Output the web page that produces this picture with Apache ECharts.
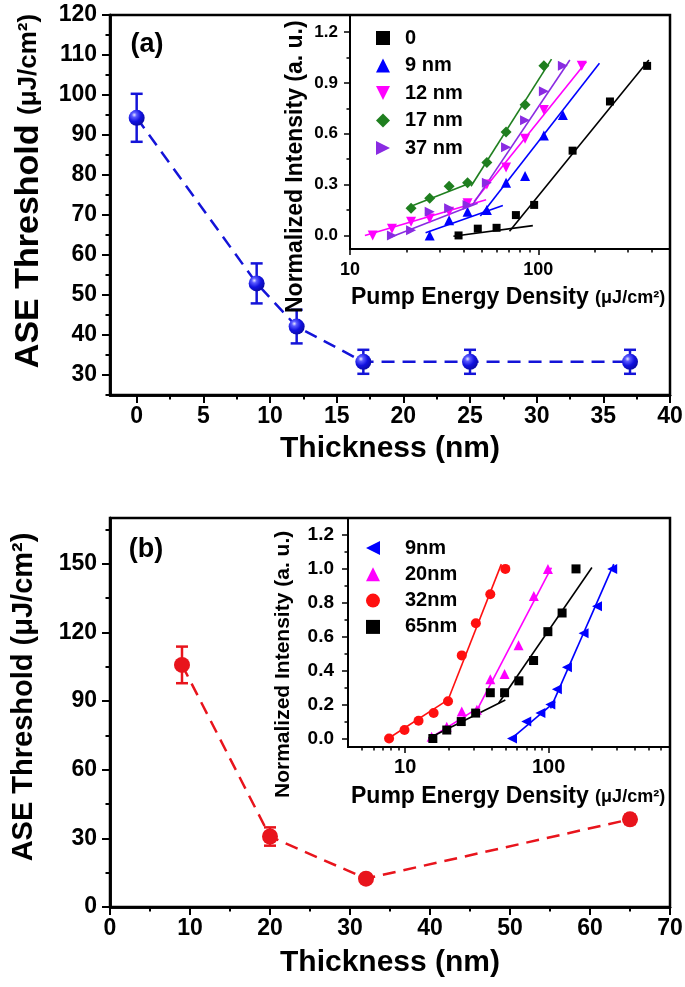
<!DOCTYPE html>
<html><head><meta charset="utf-8">
<script src="https://cdn.jsdelivr.net/npm/echarts@6/dist/echarts.min.js"></script>
<style>html,body{margin:0;padding:0;background:#fff}#c{width:685px;height:987px}</style>
</head><body><div id="c"></div>
<script>
// ---------- Panel (a) main data ----------
const thickA = [0, 9, 12, 17, 25, 37];
const thrA = [94.3, 52.9, 42.1, 33.3, 33.3, 33.3];
const errA = [6.0, 5.0, 4.2, 3.0, 3.0, 3.0];
// ---------- Panel (b) main data ----------
const thickB = [9, 20, 32, 65];
const thrB = [105.8, 30.8, 12.4, 38.3];
const errB = [8.0, 4.0, 1.0, 2.0];

// ---------- Inset (a) ----------
const insA_names = ['0', '9 nm', '12 nm', '17 nm', '37 nm'];
const a0x = [37.7, 47.7, 60, 76, 95, 152, 240, 378];
const a0y = [0, 0.04, 0.045, 0.12, 0.18, 0.5, 0.79, 1.0];
const a9x = [26.5, 33.6, 42.1, 53.3, 67.4, 85, 107, 135];
const a9y = [0.0, 0.09, 0.14, 0.15, 0.31, 0.35, 0.59, 0.71];
const a12x = [13.2, 16.7, 21.1, 26.5, 33.6, 42.1, 53.3, 67.4, 85, 107, 170];
const a12y = [0, 0.04, 0.08, 0.1, 0.14, 0.19, 0.3, 0.4, 0.57, 0.74, 1.0];
const a17x = [21.1, 26.5, 33.6, 42.1, 53.3, 67.4, 85, 107];
const a17y = [0.16, 0.22, 0.29, 0.31, 0.43, 0.61, 0.77, 1.0];
const a37x = [16.7, 21.1, 26.5, 33.6, 42.1, 53.3, 67.4, 85, 107, 135];
const a37y = [0, 0.03, 0.14, 0.16, 0.18, 0.31, 0.52, 0.68, 0.85, 1.0];
// fit line end points [x, y]
const fitA0lo = [[35.4, -0.005], [93.5, 0.058]];
const fitA0hi = [[70.3, 0.025], [386, 1.035]];
const fitA9lo = [[25.2, 0.016], [64.8, 0.176]];
const fitA9hi = [[49.2, 0.114], [211, 1.016]];
const fitA12lo = [[12.0, 0.0], [52.8, 0.21]];
const fitA12hi = [[45.6, 0.2], [180, 1.025]];
const fitA17lo = [[20.1, 0.163], [43.9, 0.31]];
const fitA17hi = [[43.9, 0.29], [117.5, 1.04]];
const fitA37lo = [[16.4, -0.01], [47.6, 0.19]];
const fitA37hi = [[44.7, 0.18], [147, 1.035]];

// ---------- Inset (b) ----------
const insB_names = ['9nm', '20nm', '32nm', '65nm'];
const b9x = [55.5, 69.8, 87.5, 102.7, 114, 134, 175, 217, 277];
const b9y = [0, 0.1, 0.15, 0.2, 0.29, 0.42, 0.62, 0.78, 1.0];
const b20x = [15.3, 19.5, 24.8, 31.6, 39.2, 49.3, 61.7, 78.8, 98.8];
const b20y = [0.01, 0.07, 0.16, 0.17, 0.35, 0.38, 0.55, 0.84, 1.0];
const b32x = [7.73, 9.9, 12.4, 15.8, 19.9, 24.8, 31.1, 39.2, 49.9];
const b32y = [0, 0.05, 0.105, 0.15, 0.22, 0.49, 0.68, 0.85, 1.0];
const b65x = [15.6, 19.5, 24.6, 31, 39.2, 49.3, 62, 78.5, 98.7, 124, 155];
const b65y = [0, 0.05, 0.1, 0.15, 0.27, 0.27, 0.34, 0.46, 0.63, 0.74, 1.0];
const fitB9lo = [[54, -0.006], [111, 0.217]];
const fitB9hi = [[103, 0.178], [284, 1.028]];
const fitB20lo = [[15.2, 0.006], [33.3, 0.188]];
const fitB20hi = [[30.8, 0.148], [104.5, 1.008]];
const fitB32lo = [[7.45, -0.006], [20.6, 0.237]];
const fitB32hi = [[19.5, 0.208], [46.8, 1.028]];
const fitB65lo = [[14.5, 0.0], [49.9, 0.227]];
const fitB65hi = [[44.8, 0.208], [200, 1.008]];

// ---------- tick labels ----------
const ticksAx = [0, 5, 10, 15, 20, 25, 30, 35, 40];
const minorAx = [2.5, 7.5, 12.5, 17.5, 22.5, 27.5, 32.5, 37.5];
const ticksAy = [30, 40, 50, 60, 70, 80, 90, 100, 110, 120];
const minorAy = [25, 35, 45, 55, 65, 75, 85, 95, 105, 115];
const ticksBx = [0, 10, 20, 30, 40, 50, 60, 70];
const minorBx = [5, 15, 25, 35, 45, 55, 65];
const ticksBy = [0, 30, 60, 90, 120, 150];
const minorBy = [15, 45, 75, 105, 135, 165];
const ticksIAy = [0, 0.3, 0.6, 0.9, 1.2];
const minorIAy = [0.15, 0.45, 0.75, 1.05];
const ticksIBy = [0, 0.2, 0.4, 0.6, 0.8, 1.0, 1.2];
const minorIBy = [0.1, 0.3, 0.5, 0.7, 0.9, 1.1];

const FF = "'Liberation Sans', Arial, Helvetica, sans-serif";
const BLACK = '#000';
const blueA = '#1414d8';
const redB = '#e8141c';
const cBlue = '#0000ff', cMag = '#ff00ff', cGreen = '#1f7f1f', cPurple = '#8a2be2', cRed = '#ff1010';
const TRI_UP = 'path://M5,0L10,10L0,10Z';
const TRI_DOWN = 'path://M0,0L10,0L5,10Z';
const TRI_RIGHT = 'path://M0,0L10,5L0,10Z';
const TRI_LEFT = 'path://M10,0L0,5L10,10Z';

function pairs(xs, ys) { return xs.map((x, i) => [x, ys[i]]); }
function logMinor(min, max) {
  const r = [];
  for (let d = 1; d <= 1000; d *= 10) for (let k = 2; k <= 9; k++) { const v = k * d; if (v > min && v < max) r.push(Math.log10(v)); }
  return r;
}

function majorAxis(gridIndex, position, min, max, ticks, o) {
  const ax = {
    type: o.type || 'value', gridIndex, position, min, max,
    axisLine: { show: true, onZero: false, lineStyle: { color: BLACK, width: o.lw } },
    axisTick: { show: true, inside: false, length: o.tl, lineStyle: { color: BLACK, width: o.tw } },
    axisLabel: { show: true, margin: o.margin, color: BLACK, fontFamily: FF, fontWeight: 'bold', fontSize: o.fs },
    splitLine: { show: false }, minorTick: { show: false }, minorSplitLine: { show: false }
  };
  if (o.type === 'log') ax.logBase = 10;
  if (ticks) { ax.axisTick.customValues = ticks; ax.axisLabel.customValues = ticks; }
  if (o.fmt) ax.axisLabel.formatter = o.fmt;
  if (o.labelExtra) Object.assign(ax.axisLabel, o.labelExtra);
  return ax;
}
function minorAxis(gridIndex, position, min, max, ticks, len, tw, lw) {
  return {
    type: 'value', gridIndex, position, min, max,
    axisLine: { show: true, onZero: false, lineStyle: { color: BLACK, width: lw } },
    axisLabel: { show: false }, splitLine: { show: false },
    axisTick: { show: true, inside: false, length: len, customValues: ticks, lineStyle: { color: BLACK, width: tw } }
  };
}
const fmt1 = v => v.toFixed(1);

const xAxis = [
  majorAxis(0, 'bottom', -2, 40, ticksAx, { lw: 2.5, tl: 8, tw: 2, fs: 23, margin: 10 }),
  minorAxis(0, 'bottom', -2, 40, minorAx, 4.5, 2, 2.5),
  majorAxis(1, 'bottom', 10, 500, null, { type: 'log', lw: 2, tl: 6, tw: 1.5, fs: 18, margin: 12, labelExtra: { showMaxLabel: false } }),
  minorAxis(1, 'bottom', 1, Math.log10(500), logMinor(10, 500), 3.5, 1.5, 2),
  majorAxis(2, 'bottom', 0, 70, ticksBx, { lw: 2.5, tl: 8, tw: 2, fs: 23, margin: 10 }),
  minorAxis(2, 'bottom', 0, 70, minorBx, 4.5, 2, 2.5),
  majorAxis(3, 'bottom', 4, 700, null, { type: 'log', lw: 2, tl: 6, tw: 1.5, fs: 20, margin: 10, labelExtra: { showMinLabel: false, showMaxLabel: false } }),
  minorAxis(3, 'bottom', Math.log10(4), Math.log10(700), logMinor(4, 700), 3.5, 1.5, 2)
];
const yAxis = [
  majorAxis(0, 'left', 25, 120, ticksAy, { lw: 2.5, tl: 8, tw: 2, fs: 23, margin: 13 }),
  minorAxis(0, 'left', 25, 120, minorAy, 4.5, 2, 2.5),
  majorAxis(1, 'left', -0.08, 1.3, ticksIAy, { lw: 2, tl: 6, tw: 1.5, fs: 17, margin: 12, fmt: fmt1 }),
  minorAxis(1, 'left', -0.08, 1.3, minorIAy, 3.5, 1.5, 2),
  majorAxis(2, 'left', 0, 170, ticksBy, { lw: 2.5, tl: 8, tw: 2, fs: 23, margin: 13 }),
  minorAxis(2, 'left', 0, 170, minorBy, 4.5, 2, 2.5),
  majorAxis(3, 'left', -0.05, 1.3, ticksIBy, { lw: 2, tl: 6, tw: 1.5, fs: 19, margin: 14, fmt: fmt1 }),
  minorAxis(3, 'left', -0.05, 1.3, minorIBy, 3.5, 1.5, 2)
];

function errRender(params, api) {
  const x = api.value(0), lo = api.value(1), hi = api.value(2);
  const pLo = api.coord([x, lo]), pHi = api.coord([x, hi]);
  const cw = 6;
  const style = { stroke: api.visual('color'), lineWidth: 2.5 };
  return { type: 'group', children: [
    { type: 'line', shape: { x1: pLo[0], y1: pLo[1], x2: pHi[0], y2: pHi[1] }, style },
    { type: 'line', shape: { x1: pLo[0] - cw, y1: pLo[1], x2: pLo[0] + cw, y2: pLo[1] }, style },
    { type: 'line', shape: { x1: pHi[0] - cw, y1: pHi[1], x2: pHi[0] + cw, y2: pHi[1] }, style }
  ] };
}

const sphereBlue = new echarts.graphic.RadialGradient(0.35, 0.32, 0.7, [
  { offset: 0, color: '#e8e8ff' }, { offset: 0.22, color: '#5a5aff' }, { offset: 0.6, color: '#1212e0' }, { offset: 1, color: '#0a0aa8' }
]);

function mainSeries(xi, yi, xs, ys, es, color, markerColor) {
  return [
    { type: 'line', xAxisIndex: xi, yAxisIndex: yi, data: pairs(xs, ys), symbol: 'none', silent: true,
      lineStyle: { color, width: 2.5, type: [13, 8] }, z: 2 },
    { type: 'custom', xAxisIndex: xi, yAxisIndex: yi, renderItem: errRender, itemStyle: { color },
      encode: { x: 0, y: [1, 2] }, data: xs.map((x, i) => [x, ys[i] - es[i], ys[i] + es[i]]), z: 3 },
    { type: 'scatter', xAxisIndex: xi, yAxisIndex: yi, data: pairs(xs, ys), symbol: 'circle', symbolSize: 16,
      itemStyle: { color: markerColor, opacity: 1 }, z: 4 }
  ];
}
function insetScatter(name, xi, yi, xs, ys, color, symbol, size) {
  return { type: 'scatter', name, xAxisIndex: xi, yAxisIndex: yi, data: pairs(xs, ys), symbol, symbolSize: size,
    itemStyle: { color, opacity: 1 }, z: 6 };
}
function fitLine(name, xi, yi, pts, color) {
  return { type: 'line', name, xAxisIndex: xi, yAxisIndex: yi, data: pts, symbol: 'none', silent: true,
    lineStyle: { color, width: 1.6 }, z: 5 };
}

const series = [].concat(
  mainSeries(0, 0, thickA, thrA, errA, blueA, sphereBlue),
  mainSeries(4, 4, thickB, thrB, errB, redB, redB),
  [
    fitLine('fa0l', 2, 2, fitA0lo, BLACK), fitLine('fa0h', 2, 2, fitA0hi, BLACK),
    fitLine('fa9l', 2, 2, fitA9lo, cBlue), fitLine('fa9h', 2, 2, fitA9hi, cBlue),
    fitLine('fa12l', 2, 2, fitA12lo, cMag), fitLine('fa12h', 2, 2, fitA12hi, cMag),
    fitLine('fa17l', 2, 2, fitA17lo, cGreen), fitLine('fa17h', 2, 2, fitA17hi, cGreen),
    fitLine('fa37l', 2, 2, fitA37lo, cPurple), fitLine('fa37h', 2, 2, fitA37hi, cPurple),
    insetScatter(insA_names[0], 2, 2, a0x, a0y, BLACK, 'rect', 8),
    insetScatter(insA_names[1], 2, 2, a9x, a9y, cBlue, TRI_UP, 10),
    insetScatter(insA_names[2], 2, 2, a12x, a12y, cMag, TRI_DOWN, 10),
    insetScatter(insA_names[3], 2, 2, a17x, a17y, cGreen, 'diamond', 11),
    insetScatter(insA_names[4], 2, 2, a37x, a37y, cPurple, TRI_RIGHT, 10),
    fitLine('fb9l', 6, 6, fitB9lo, cBlue), fitLine('fb9h', 6, 6, fitB9hi, cBlue),
    fitLine('fb20l', 6, 6, fitB20lo, cMag), fitLine('fb20h', 6, 6, fitB20hi, cMag),
    fitLine('fb32l', 6, 6, fitB32lo, cRed), fitLine('fb32h', 6, 6, fitB32hi, cRed),
    fitLine('fb65l', 6, 6, fitB65lo, BLACK), fitLine('fb65h', 6, 6, fitB65hi, BLACK),
    insetScatter(insB_names[0], 6, 6, b9x, b9y, cBlue, TRI_LEFT, 10),
    insetScatter(insB_names[1], 6, 6, b20x, b20y, cMag, TRI_UP, 10),
    insetScatter(insB_names[2], 6, 6, b32x, b32y, cRed, 'circle', 10),
    insetScatter(insB_names[3], 6, 6, b65x, b65y, BLACK, 'rect', 9)
  ]
);

const gridBase = { show: true, borderColor: BLACK, containLabel: false, outerBoundsMode: 'none', backgroundColor: 'transparent' };
const grid = [
  Object.assign({}, gridBase, { left: 110, top: 15, width: 560, height: 380, borderWidth: 2.5 }),
  Object.assign({}, gridBase, { left: 350, top: 15, width: 320, height: 234, borderWidth: 2 }),
  Object.assign({}, gridBase, { left: 110, top: 518, width: 560, height: 389, borderWidth: 2.5 }),
  Object.assign({}, gridBase, { left: 348, top: 518, width: 322, height: 229, borderWidth: 2 })
];

const legTxt = { fontFamily: FF, fontWeight: 'bold', fontSize: 20, color: BLACK, lineHeight: 20 };
const legend = [
  { data: insA_names, orient: 'vertical', left: 376, top: 28, itemWidth: 14, itemHeight: 14, itemGap: 7.5,
    padding: 0, selectedMode: false, symbolKeepAspect: true,
    textStyle: Object.assign({}, legTxt, { padding: [0, 0, 0, 10] }) },
  { data: insB_names, orient: 'vertical', left: 366, top: 538, itemWidth: 14, itemHeight: 14, itemGap: 6.3,
    padding: 0, selectedMode: false, symbolKeepAspect: true,
    textStyle: Object.assign({}, legTxt, { padding: [0, 0, 0, 20] }) }
];

function T(x, y, text, size, extra) {
  return Object.assign({ type: 'text', x, y, z: 100,
    style: { text, fontFamily: FF, fontWeight: 'bold', fontSize: size, fill: BLACK, align: 'center', verticalAlign: 'middle' } }, extra || {});
}
function richTitle(x, y, s1, s2, rot, align, main, unit) {
  return { type: 'text', x, y, rotation: rot, z: 100,
    style: { text: '{a|' + main + '}{u|' + unit + '}', align, verticalAlign: 'middle',
      rich: { a: { fontFamily: FF, fontWeight: 'bold', fontSize: s1, fill: BLACK },
              u: { fontFamily: FF, fontWeight: 'bold', fontSize: s2, fill: BLACK } } } };
}
const graphic = [
  T(147, 45, '(a)', 27),
  T(146, 550, '(b)', 27),
  richTitle(29, 191, 34, 26, Math.PI / 2, 'center', 'ASE Threshold ', '(μJ/cm²)'),
  richTitle(24, 697, 29, 29, Math.PI / 2, 'center', 'ASE Threshold ', '(μJ/cm²)'),
  T(390, 449, 'Thickness (nm)', 30),
  T(390, 963, 'Thickness (nm)', 30),
  Object.assign(T(296, 313, 'Normalized Intensity (a. u.)', 23), { rotation: Math.PI / 2 }),
  Object.assign(T(283, 798, 'Normalized Intensity (a. u.)', 21), { rotation: Math.PI / 2 }),
  richTitle(351, 298, 23, 18, 0, 'left', 'Pump Energy Density ', '(μJ/cm²)'),
  richTitle(351, 797, 23, 18, 0, 'left', 'Pump Energy Density ', '(μJ/cm²)')
];
graphic[6].style.align = 'left';
graphic[7].style.align = 'left';

const chart = echarts.init(document.getElementById('c'), null, { renderer: 'canvas', width: 685, height: 987 });
chart.setOption({
  animation: false,
  backgroundColor: '#fff',
  grid, xAxis, yAxis, legend, series, graphic
});
</script>
</body></html>
